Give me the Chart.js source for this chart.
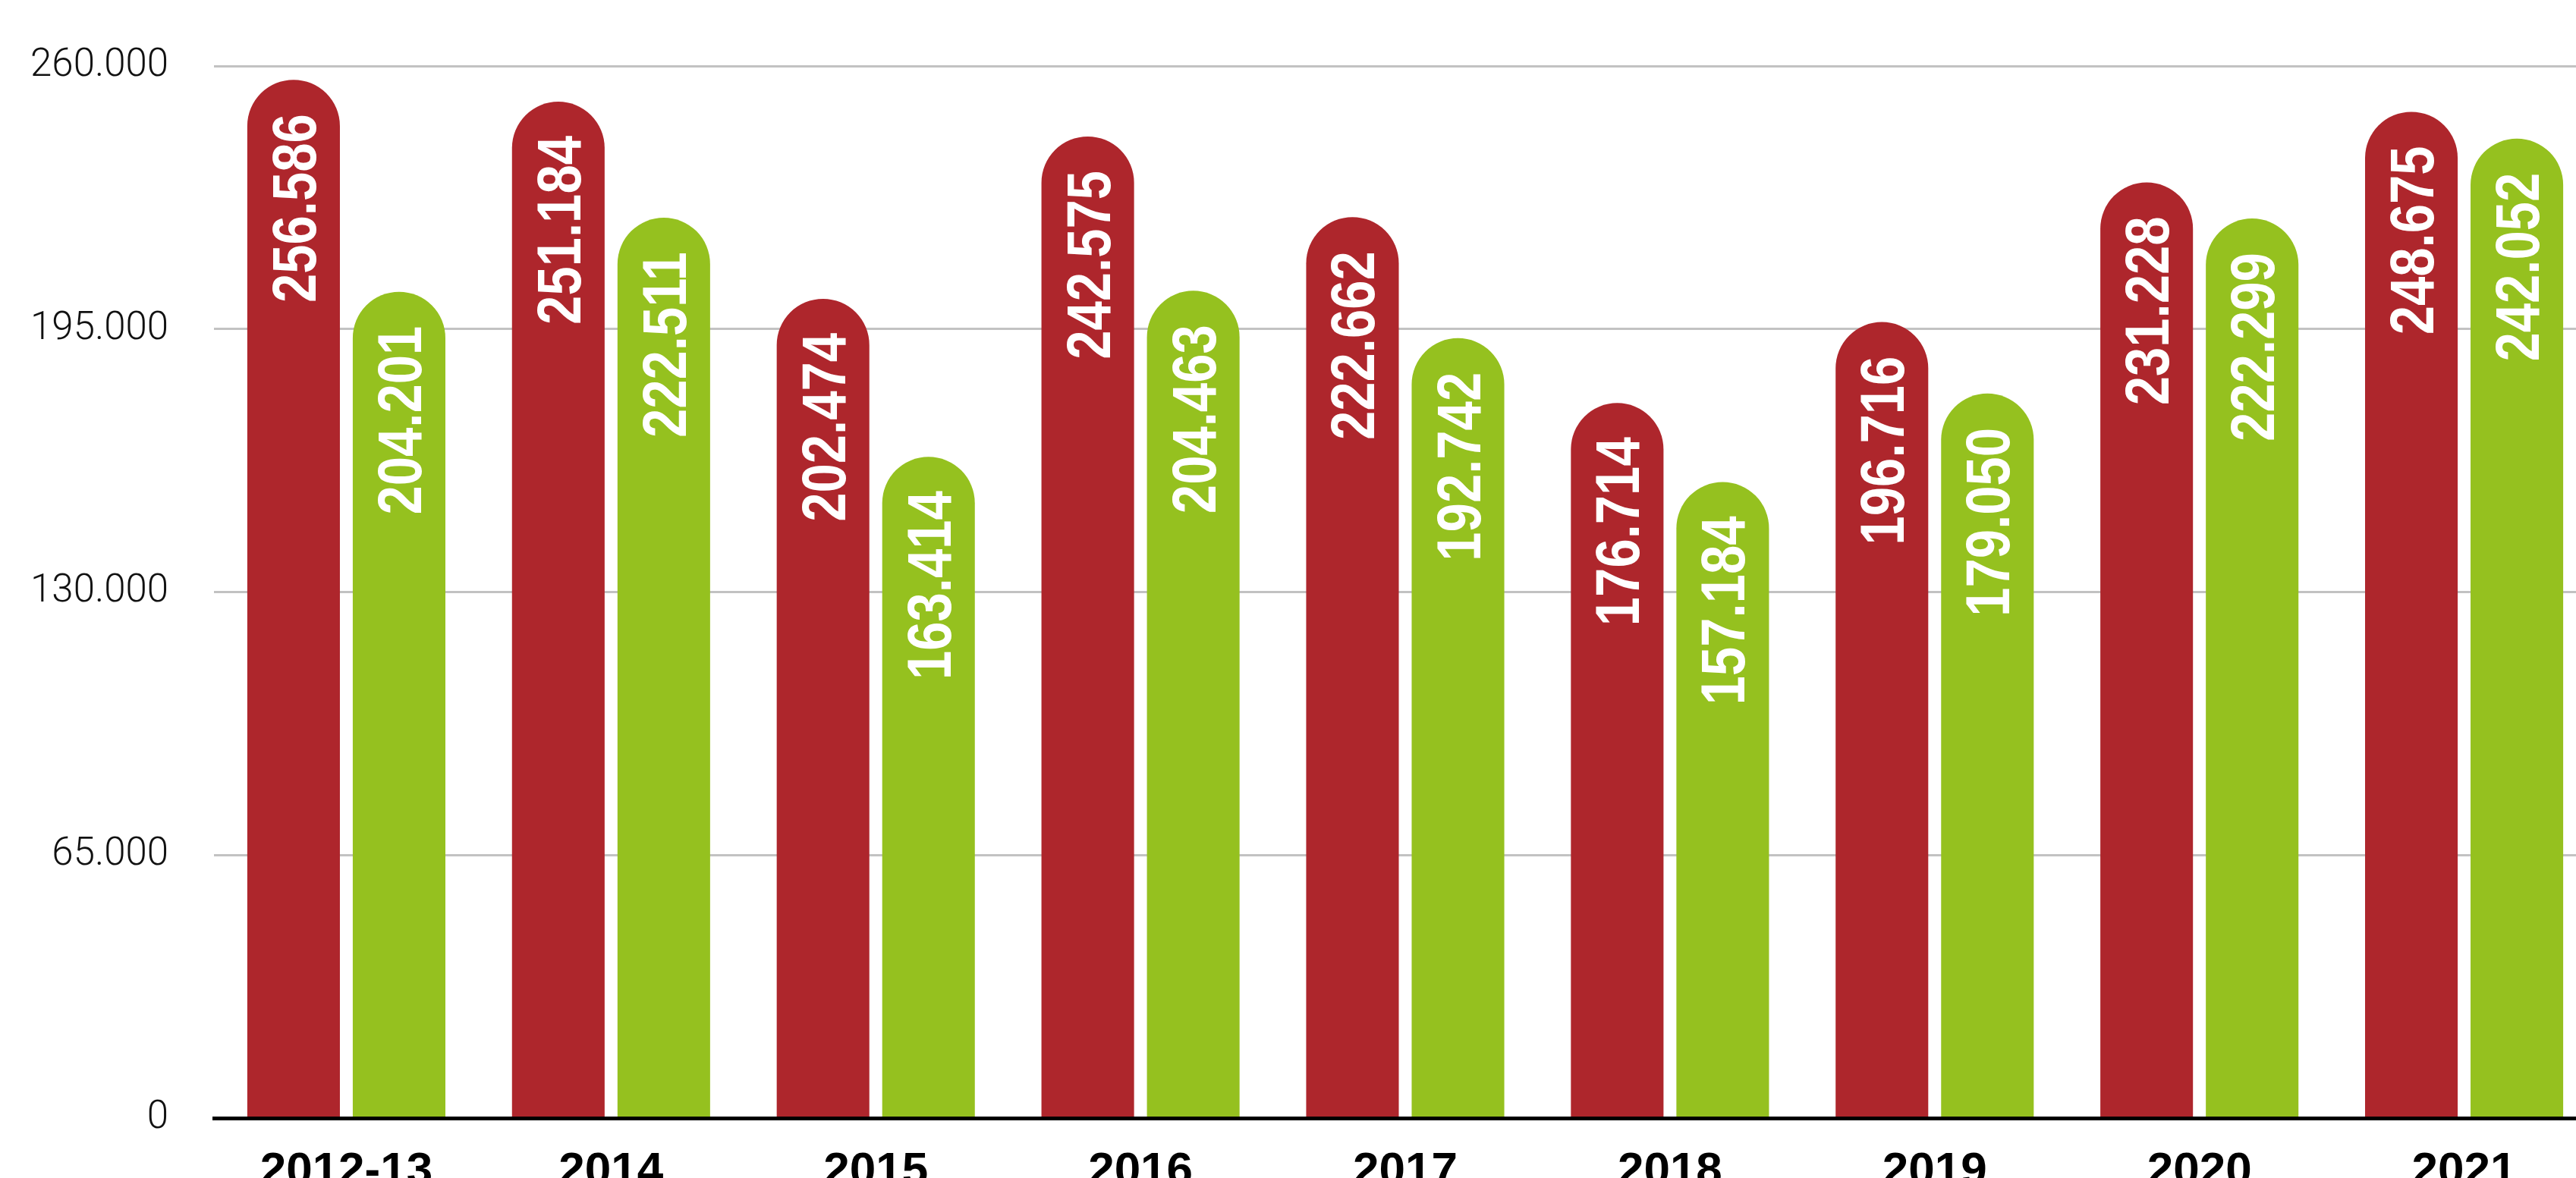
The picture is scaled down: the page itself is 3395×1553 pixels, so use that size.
<!DOCTYPE html>
<html>
<head>
<meta charset="utf-8">
<script src="https://cdn.jsdelivr.net/npm/chart.js@4.4.1/dist/chart.umd.min.js"></script>
<style>
  html, body { margin: 0; padding: 0; background: #fff; overflow: hidden; }
  #wrap { width: 3422px; height: 1553px; }
</style>
</head>
<body>
<div id="wrap"><canvas id="bars" width="3422" height="1553"></canvas></div>
<script>
// ── DATA ─────────────────────────────────────────────────────────────────────
var YEARS = ['2012-13', '2014', '2015', '2016', '2017', '2018', '2019', '2020', '2021'];
var RED_VALUES   = [256586, 251184, 202474, 242575, 222662, 176714, 196716, 231228, 248675];
var GREEN_VALUES = [204201, 222511, 163414, 204463, 192742, 157184, 179050, 222299, 242052];
var Y_MAX = 260000;
var Y_STEP = 65000;

var RED = '#ae262c';
var GREEN = '#95c11f';

// German style thousands separator: 260000 -> "260.000"
function fmt(v) {
  return Number(v).toLocaleString('de-DE');
}

// ── IN-BAR LABELS ────────────────────────────────────────────────────────────
// White, rotated -90deg, ending a bit below each bar's rounded top.
// No condensed bold face is installed, so squeeze Liberation Sans Bold along
// the text direction to get the narrow look.
var barLabels = {
  id: 'barLabels',
  afterDatasetsDraw: function(chart) {
    var ctx = chart.ctx;
    var size = 81;
    var cap = size * 0.716;
    var squeeze = 0.85;
    ctx.save();
    ctx.fillStyle = '#fff';
    ctx.font = 'bold ' + size + 'px "Liberation Sans", Arial, sans-serif';
    ctx.textAlign = 'right';
    ctx.textBaseline = 'alphabetic';
    chart.data.datasets.forEach(function(ds, i) {
      var meta = chart.getDatasetMeta(i);
      meta.data.forEach(function(bar, j) {
        ctx.save();
        ctx.translate(bar.x + cap / 2, bar.y + 45);
        ctx.rotate(-Math.PI / 2);
        ctx.scale(squeeze, 1);
        ctx.fillText(fmt(ds.data[j]), 0, 0);
        ctx.restore();
      });
    });
    ctx.restore();
  }
};

// ── CHART ────────────────────────────────────────────────────────────────────
var barStyle = {
  barPercentage: 0.878,
  categoryPercentage: 0.797,
  borderWidth: 0,
  borderSkipped: 'start',
  borderRadius: { topLeft: 61, topRight: 61, bottomLeft: 0, bottomRight: 0 }
};

new Chart(document.getElementById('bars'), {
  type: 'bar',
  data: {
    labels: YEARS,
    datasets: [
      Object.assign({ label: 'red', data: RED_VALUES, backgroundColor: RED }, barStyle),
      Object.assign({ label: 'green', data: GREEN_VALUES, backgroundColor: GREEN }, barStyle)
    ]
  },
  options: {
    responsive: false,
    animation: false,
    devicePixelRatio: 1,
    layout: { padding: { top: 87, left: 0, right: 0, bottom: 0 } },
    plugins: {
      legend: { display: false },
      tooltip: { enabled: false }
    },
    scales: {
      x: {
        grid: { display: false, drawTicks: false },
        border: { display: true, color: '#000', width: 5, z: 1 },
        ticks: {
          color: '#000',
          padding: 34,
          maxRotation: 0,
          font: { family: '"Liberation Sans", Arial, sans-serif', weight: 'bold', size: 62 }
        },
        afterFit: function(scale) { scale.height = 79; }
      },
      y: {
        min: 0,
        max: Y_MAX,
        grid: { color: '#c2c2c2', lineWidth: 3, drawTicks: false },
        border: { display: false },
        ticks: {
          stepSize: Y_STEP,
          color: '#111',
          padding: 60,
          font: { family: 'Roboto, "Liberation Sans", sans-serif', weight: 300, size: 51 },
          callback: function(v) { return fmt(v); }
        },
        // tick padding would otherwise reserve space above/below the plot too
        afterFit: function(scale) {
          scale.width = 282;
          scale.paddingTop = 0;
          scale.paddingBottom = 0;
        }
      }
    }
  },
  plugins: [barLabels]
});
</script>
</body>
</html>
